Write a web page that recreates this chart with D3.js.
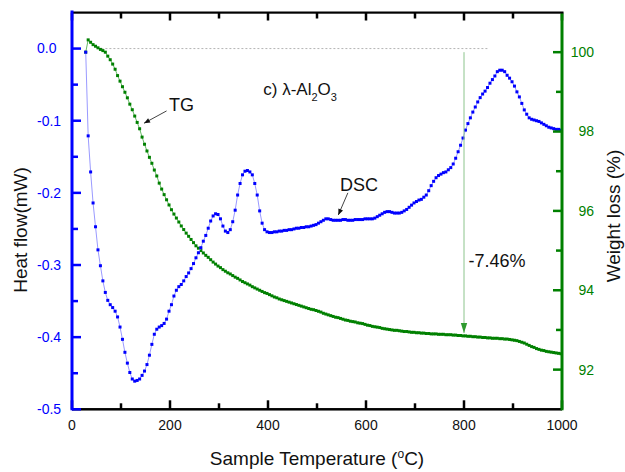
<!DOCTYPE html>
<html>
<head>
<meta charset="utf-8">
<script src="https://cdn.jsdelivr.net/npm/d3@7"></script>
<style>
  body { margin: 0; background: #ffffff; }
  svg { display: block; font-family: Arial, "Liberation Sans", sans-serif; }
</style>
</head>
<body>
<svg id="chart" width="625" height="472"></svg>
<script>
// Sample temperature (°C) of each recorded point, shared by both signals
const temperature = [
  28,33,38,43,48,53,58,63,68,73,
  78,83,88,93,98,103,108,113,118,123,
  128,133,138,143,148,153,158,163,168,173,
  178,183,188,193,198,203,208,213,218,223,
  228,233,238,243,248,253,258,263,268,273,
  278,283,288,293,298,303,308,313,318,323,
  328,333,338,343,348,353,358,363,368,373,
  378,383,388,393,398,403,408,413,418,423,
  428,433,438,443,448,453,458,463,468,473,
  478,483,488,493,498,503,508,513,518,523,
  528,533,538,543,548,553,558,563,568,573,
  578,583,588,593,598,603,608,613,618,623,
  628,633,638,643,648,653,658,663,668,673,
  678,683,688,693,698,703,708,713,718,723,
  728,733,738,743,748,753,758,763,768,773,
  778,783,788,793,798,803,808,813,818,823,
  828,833,838,843,848,853,858,863,868,873,
  878,883,888,893,898,903,908,913,918,923,
  928,933,938,943,948,953,958,963,968,973,
  978,983,988,993,998
];

// DSC heat flow (mW)
const heatFlow = [
  -0.005,-0.121,-0.171,-0.214,-0.247,-0.279,-0.301,-0.322,-0.338,-0.349,
  -0.355,-0.359,-0.364,-0.372,-0.386,-0.403,-0.421,-0.436,-0.449,-0.458,
  -0.461,-0.460,-0.458,-0.453,-0.447,-0.438,-0.425,-0.410,-0.396,-0.389,
  -0.386,-0.384,-0.381,-0.375,-0.364,-0.355,-0.343,-0.335,-0.330,-0.327,
  -0.322,-0.316,-0.311,-0.305,-0.298,-0.290,-0.283,-0.276,-0.267,-0.259,
  -0.249,-0.239,-0.232,-0.229,-0.230,-0.236,-0.246,-0.253,-0.255,-0.251,
  -0.240,-0.224,-0.203,-0.187,-0.175,-0.170,-0.169,-0.171,-0.175,-0.187,
  -0.203,-0.225,-0.242,-0.251,-0.254,-0.255,-0.255,-0.254,-0.254,-0.253,
  -0.253,-0.252,-0.252,-0.251,-0.251,-0.250,-0.249,-0.249,-0.248,-0.248,
  -0.247,-0.247,-0.246,-0.245,-0.244,-0.242,-0.240,-0.238,-0.236,-0.236,
  -0.237,-0.238,-0.238,-0.238,-0.238,-0.237,-0.237,-0.238,-0.238,-0.238,
  -0.237,-0.237,-0.237,-0.237,-0.236,-0.236,-0.236,-0.236,-0.235,-0.233,
  -0.231,-0.229,-0.227,-0.226,-0.226,-0.227,-0.228,-0.228,-0.228,-0.227,
  -0.225,-0.223,-0.220,-0.217,-0.214,-0.212,-0.210,-0.209,-0.206,-0.203,
  -0.197,-0.190,-0.184,-0.179,-0.176,-0.174,-0.172,-0.171,-0.168,-0.165,
  -0.160,-0.152,-0.143,-0.134,-0.124,-0.113,-0.104,-0.096,-0.088,-0.081,
  -0.074,-0.068,-0.063,-0.059,-0.054,-0.048,-0.043,-0.038,-0.032,-0.030,
  -0.030,-0.032,-0.037,-0.041,-0.046,-0.052,-0.060,-0.067,-0.076,-0.085,
  -0.091,-0.096,-0.098,-0.099,-0.100,-0.101,-0.103,-0.105,-0.107,-0.109,
  -0.110,-0.111,-0.112,-0.112,-0.113
];

// TG remaining weight (%)
const weight = [
  100.00,100.31,100.25,100.19,100.15,100.11,100.07,100.04,100.00,99.90,
  99.81,99.70,99.57,99.41,99.27,99.13,98.99,98.85,98.69,98.55,
  98.39,98.23,98.07,97.86,97.68,97.51,97.35,97.20,97.03,96.88,
  96.70,96.55,96.41,96.28,96.15,96.03,95.92,95.82,95.72,95.62,
  95.53,95.44,95.36,95.28,95.20,95.12,95.06,95.00,94.94,94.88,
  94.83,94.77,94.71,94.66,94.61,94.57,94.52,94.48,94.44,94.41,
  94.37,94.33,94.30,94.26,94.22,94.19,94.16,94.13,94.09,94.06,
  94.03,94.00,93.97,93.94,93.92,93.89,93.86,93.83,93.81,93.78,
  93.76,93.74,93.72,93.70,93.68,93.66,93.64,93.62,93.60,93.58,
  93.56,93.54,93.52,93.51,93.49,93.47,93.45,93.42,93.40,93.38,
  93.36,93.34,93.32,93.31,93.29,93.27,93.25,93.24,93.22,93.21,
  93.20,93.18,93.17,93.16,93.14,93.12,93.11,93.09,93.08,93.07,
  93.06,93.04,93.03,93.02,93.01,93.00,92.99,92.99,92.98,92.97,
  92.96,92.96,92.95,92.94,92.94,92.93,92.93,92.92,92.92,92.91,
  92.91,92.90,92.90,92.90,92.89,92.89,92.89,92.88,92.88,92.88,
  92.87,92.87,92.86,92.86,92.85,92.85,92.84,92.84,92.83,92.83,
  92.82,92.82,92.81,92.81,92.80,92.80,92.79,92.79,92.79,92.78,
  92.78,92.77,92.77,92.76,92.75,92.74,92.73,92.71,92.69,92.67,
  92.64,92.61,92.58,92.56,92.53,92.51,92.49,92.48,92.46,92.45,
  92.44,92.43,92.42,92.41,92.40
];

// Tick values
const xTicks = [0, 200, 400, 600, 800, 1000];
const xMinorTicks = [100, 300, 500, 700, 900];
const heatTicks = [0.0, -0.1, -0.2, -0.3, -0.4, -0.5];
const heatMinorTicks = [-0.05, -0.15, -0.25, -0.35, -0.45];
const weightTicks = [92, 94, 96, 98, 100];
const weightMinorTicks = [93, 95, 97, 99];

// Mass-loss annotation: peak weight minus loss reached at 800 °C
const lossTemperature = 800;
const lossLabel = "-7.46%";

const svg = d3.select("#chart");
const plot = { left: 72, right: 562, top: 12.5, bottom: 409.3 };
const FONT = 'Arial, "Liberation Sans", sans-serif';
const BLUE = "#0000ff";
const GREEN = "#008000";

const x = d3.scaleLinear().domain([0, 1000]).range([plot.left, plot.right]);
const yHeat = d3.scaleLinear().domain([-0.5, 0.05]).range([plot.bottom, plot.top]);
const yWeight = d3.scaleLinear().domain([91, 101]).range([plot.bottom, plot.top]);

const dsc = temperature.map((t, i) => ({ t, v: heatFlow[i] }));
const tg = temperature.map((t, i) => ({ t, v: weight[i] }));

// Zero heat-flow reference line
svg.append("line")
  .attr("x1", x(60)).attr("x2", x(850))
  .attr("y1", yHeat(0)).attr("y2", yHeat(0))
  .attr("stroke", "#b4b4b4").attr("stroke-width", 1)
  .attr("stroke-dasharray", "2,2");

// TG curve
svg.append("path").datum(tg)
  .attr("d", d3.line().x(d => x(d.t)).y(d => yWeight(d.v)))
  .attr("fill", "none").attr("stroke", "#66b866").attr("stroke-width", 1);
svg.append("g").selectAll("rect").data(tg).join("rect")
  .attr("x", d => x(d.t) - 1.5).attr("y", d => yWeight(d.v) - 1.5)
  .attr("width", 3).attr("height", 3).attr("fill", GREEN);

// DSC curve
svg.append("path").datum(dsc)
  .attr("d", d3.line().x(d => x(d.t)).y(d => yHeat(d.v)))
  .attr("fill", "none").attr("stroke", "#9a9aff").attr("stroke-width", 1);
svg.append("g").selectAll("rect").data(dsc).join("rect")
  .attr("x", d => x(d.t) - 1.5).attr("y", d => yHeat(d.v) - 1.5)
  .attr("width", 3).attr("height", 3).attr("fill", BLUE);

// Arrow helper: line from (x1,y1) to tip (x2,y2) with a filled head
function arrow(x1, y1, x2, y2, lineColor, headColor, len, half) {
  svg.append("line").attr("x1", x1).attr("y1", y1).attr("x2", x2).attr("y2", y2)
    .attr("stroke", lineColor).attr("stroke-width", 1);
  const a = Math.atan2(y2 - y1, x2 - x1);
  const bx = x2 - len * Math.cos(a), by = y2 - len * Math.sin(a);
  const px = -Math.sin(a) * half, py = Math.cos(a) * half;
  svg.append("path")
    .attr("d", `M${x2},${y2}L${bx + px},${by + py}L${bx - px},${by - py}Z`)
    .attr("fill", headColor);
}

// Weight-loss arrow at 800 °C
const lossTip = weight[temperature.indexOf(798)] + 0.07;
arrow(x(lossTemperature), yWeight(100), x(lossTemperature), yWeight(lossTip),
      "#8cc48c", "#2e9a2e", 10, 3.2);
svg.append("text").attr("x", x(809)).attr("y", yWeight(94.58))
  .attr("font-family", FONT).attr("font-size", 18).attr("fill", "#111")
  .text(lossLabel);

// Curve labels with pointers
svg.append("text").attr("x", x(198)).attr("y", yWeight(98.52))
  .attr("font-family", FONT).attr("font-size", 18).attr("fill", "#111").text("TG");
arrow(x(193), yWeight(98.52), x(147), yWeight(98.21), "#444", "#111", 6, 2.5);

svg.append("text").attr("x", x(547)).attr("y", yHeat(-0.197))
  .attr("font-family", FONT).attr("font-size", 18).attr("fill", "#111").text("DSC");
arrow(x(563), yHeat(-0.2), x(543.5), yHeat(-0.2306), "#444", "#111", 6, 2.5);

// Sample title
const title = svg.append("text").attr("x", x(390.4)).attr("y", yHeat(-0.0643))
  .attr("font-family", FONT).attr("font-size", 17).attr("fill", "#111");
title.append("tspan").text("c) λ-Al");
title.append("tspan").attr("font-size", 11).attr("dy", 6).text("2");
title.append("tspan").attr("dy", -6).text("O");
title.append("tspan").attr("font-size", 11).attr("dy", 6).text("3");

// ---- Axes: frame lines, inward ticks (as filled rects), labels ----
const frame = svg.append("g");
function tickSet(values, pos, horizontal, base, dir, len, color) {
  const w = 2.5;
  frame.append("g").selectAll("rect").data(values).join("rect")
    .attr("x", d => horizontal ? pos(d) - w / 2 : (dir > 0 ? base : base - len))
    .attr("y", d => horizontal ? (dir > 0 ? base : base - len) : pos(d) - w / 2)
    .attr("width", horizontal ? w : len)
    .attr("height", horizontal ? len : w)
    .attr("fill", color);
}

// top and bottom (temperature)
tickSet(xTicks, x, true, plot.bottom, -1, 9, "#000");
tickSet(xMinorTicks, x, true, plot.bottom, -1, 6, "#000");
tickSet(xTicks, x, true, plot.top, 1, 8, "#000");
tickSet(xMinorTicks, x, true, plot.top, 1, 6, "#000");
frame.append("rect").attr("x", plot.left).attr("y", plot.bottom - 1.25)
  .attr("width", plot.right - plot.left).attr("height", 2.5).attr("fill", "#000");
frame.append("rect").attr("x", plot.left).attr("y", plot.top - 1)
  .attr("width", plot.right - plot.left + 1.5).attr("height", 2.2).attr("fill", "#000");
frame.append("g").selectAll("text").data(xTicks).join("text")
  .attr("x", d => x(d)).attr("y", 430).attr("text-anchor", "middle")
  .attr("font-family", FONT).attr("font-size", 14).attr("fill", "#111")
  .text(d3.format("d"));

// left (heat flow)
tickSet(heatTicks, yHeat, false, plot.left, 1, 9, BLUE);
tickSet(heatMinorTicks, yHeat, false, plot.left, 1, 6, BLUE);
frame.append("rect").attr("x", plot.left - 1.5).attr("y", plot.top - 2)
  .attr("width", 3).attr("height", plot.bottom - plot.top + 3).attr("fill", BLUE);
frame.append("g").selectAll("text").data(heatTicks).join("text")
  .attr("x", plot.left - 35).attr("y", d => yHeat(d)).attr("dy", "0.35em")
  .attr("font-family", FONT).attr("font-size", 14).attr("fill", BLUE)
  .text(d => d.toFixed(1));

// right (weight)
tickSet(weightTicks, yWeight, false, plot.right, -1, 9, GREEN);
tickSet(weightMinorTicks, yWeight, false, plot.right, -1, 6, GREEN);
frame.append("rect").attr("x", plot.right - 1.5).attr("y", plot.top + 1)
  .attr("width", 3).attr("height", plot.bottom - plot.top).attr("fill", GREEN);
frame.append("g").selectAll("text").data(weightTicks).join("text")
  .attr("x", plot.right + 32).attr("y", d => yWeight(d)).attr("dy", "0.35em")
  .attr("text-anchor", "end")
  .attr("font-family", FONT).attr("font-size", 14).attr("fill", GREEN)
  .text(d3.format("d"));

// Axis titles
svg.append("text").attr("transform", "translate(27,230) rotate(-90)")
  .attr("text-anchor", "middle").attr("font-family", FONT).attr("font-size", 19)
  .attr("fill", "#111").text("Heat flow(mW)");

svg.append("text").attr("transform", "translate(620,216) rotate(-90)")
  .attr("text-anchor", "middle").attr("font-family", FONT).attr("font-size", 19)
  .attr("fill", "#111").text("Weight loss (%)");

const xTitle = svg.append("text").attr("x", 317).attr("y", 465)
  .attr("text-anchor", "middle").attr("font-family", FONT).attr("font-size", 19)
  .attr("fill", "#111");
xTitle.append("tspan").text("Sample Temperature (");
xTitle.append("tspan").attr("font-size", 12).attr("dy", -7).text("o");
xTitle.append("tspan").attr("dy", 7).text("C)");
</script>
</body>
</html>
